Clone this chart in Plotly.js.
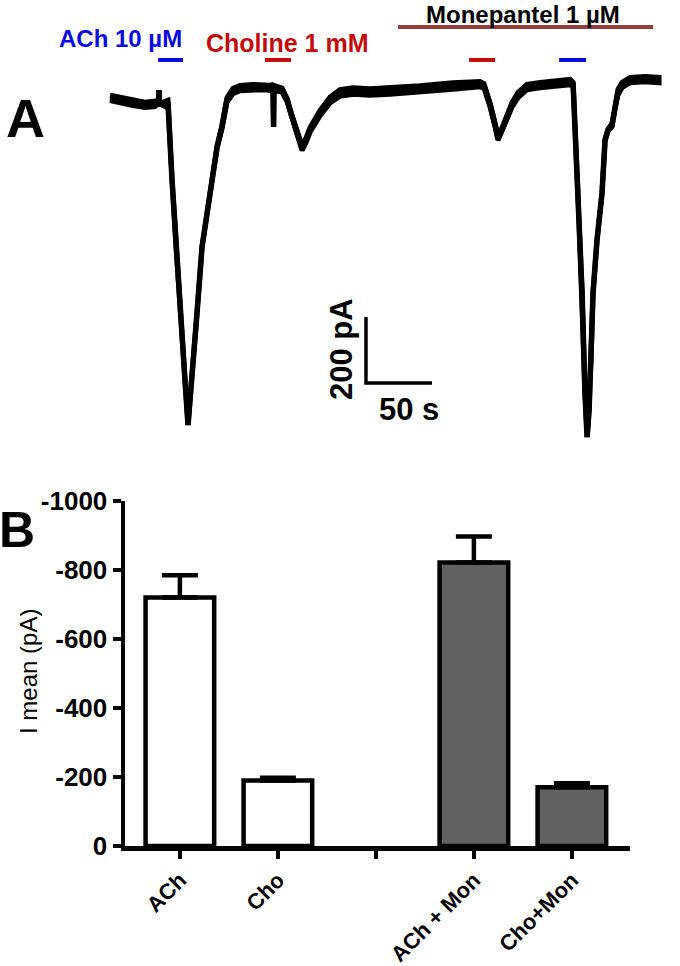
<!DOCTYPE html>
<html>
<head>
<meta charset="utf-8">
<script src="https://cdn.plot.ly/plotly-3.0.1.min.js"></script>
<style>html,body{margin:0;padding:0;background:#fff;}#chart{width:680px;height:966px;}</style>
</head>
<body>
<div id="chart"></div>
<script>
// ---------- Panel A: current trace (time in s, current in pA) ----------
const traceT = [0, 7.6, 17.4, 26.5, 34.1, 36.7, 37.1, 37.5, 41.7, 43.9, 47.0, 50.0, 53.0, 56.8, 59.1,
  62.1, 65.9, 69.7, 73.5, 77.3, 81.1, 84.8, 88.6, 93.2, 98.5, 108.3, 117.4, 123.5, 123.9, 124.2,
  130.3, 134.1, 137.9, 141.7, 145.5, 148.5, 151.5, 159.1, 166.7, 174.2, 184.1, 197.0, 212.1, 234.8,
  259.8, 280.3, 283.3, 287.9, 291.7, 293.9, 297.0, 300.8, 304.5, 309.1, 315.9, 325.8, 337.1, 348.5,
  350.8, 352.3, 354.5, 357.6, 359.8, 361.4, 362.9, 364.4, 365.9, 368.9, 372.7, 375.0, 377.3, 380.3,
  382.6, 384.8, 387.9, 394.0, 405.3, 415.9];
const traceI = [-24, -30, -39, -45, -42, -42, 0, -42, -42, -36, -273, -476, -676, -879, -1015,
  -879, -676, -476, -373, -273, -173, -112, -30, -3, 6, 9, 9, 6, -112, 6,
  0, -30, -82, -130, -176, -152, -121, -70, -30, -9, -3, -6, -3, 3,
  12, 18, 12, -45, -106, -145, -121, -82, -45, -15, 9, 15, 21, 24,
  18, -112, -312, -615, -918, -1052, -970, -818, -615, -455, -312, -152, -121, -106,
  -45, -6, 15, 30, 33, 30];
// Half-width of the recording noise band at each point (pA)
const noiseI = [8, 8, 8, 8, 8, 0, 0, 0, 8, 5, 0, 0, 0, 0, 0,
  0, 0, 0, 0, 0, 3, 5, 7, 8, 8, 8, 8, 8, 0, 8,
  6, 5, 5, 5, 7, 7, 7, 8, 9, 10, 10, 10, 10, 10,
  10, 8, 7, 6, 6, 7, 7, 7, 7, 8, 8, 8, 8, 8,
  5, 0, 0, 0, 0, 0, 0, 0, 0, 0, 0, 3, 3, 5,
  7, 8, 8, 8, 8, 8];

// Drug application periods (s)
const appLabels = ["ACh 10 µM", "Choline 1 mM", "Choline 1 mM", "ACh 10 µM"];
const appStart = [36.4, 117.4, 272.0, 340.2];
const appEnd   = [55.3, 137.1, 291.7, 360.6];
const monLabel = "Monepantel 1 µM";
const monStart = 218.2, monEnd = 411.4;

// Scale bar
const scaleT = 50;     // s
const scaleI = 200;    // pA
const scaleOriginT = 193.9, scaleOriginI = -887.9;

// ---------- Panel B: mean currents ----------
const categories = ["ACh", "Cho", "", "ACh + Mon", "Cho+Mon"];
const barCats = ["ACh", "Cho", "ACh + Mon", "Cho+Mon"];
const meanI = [-720, -190, -822, -170];
const semI = [65, 8, 75, 12];
const yTickVals = [0, -200, -400, -600, -800, -1000];
const yTickText = ["0", "-200", "-400", "-600", "-800", "-1000"];

// ---------- drawing ----------
const W = 680, H = 966;
const FONT = "Liberation Sans, Arial, Helvetica, sans-serif";
const px = x => x / W;
const py = y => 1 - y / H;

const BLUE = "#0a0ae0", RED = "#c40a0a", MON = "#973a3a";
const appColors = [BLUE, RED, RED, BLUE];

const data = [];
// noise band of the recording
const upper = traceI.map((v, i) => v + noiseI[i]);
const lower = traceI.map((v, i) => v - noiseI[i]);
data.push({
  x: traceT.concat(traceT.slice().reverse()),
  y: upper.concat(lower.slice().reverse()),
  xaxis: "x2", yaxis: "y2", type: "scatter", mode: "lines", fill: "toself",
  fillcolor: "#000", line: {color: "#000", width: 5}, hoverinfo: "skip"
});
data.push({
  x: traceT, y: traceI, xaxis: "x2", yaxis: "y2", type: "scatter", mode: "lines",
  line: {color: "#000", width: 5.5, shape: "linear"}, hoverinfo: "skip"
});
for (let i = 0; i < appStart.length; i++) {
  data.push({
    x: [appStart[i], appEnd[i]], y: [91, 91], xaxis: "x2", yaxis: "y2", type: "scatter",
    mode: "lines", line: {color: appColors[i], width: 4}, hoverinfo: "skip"
  });
}
data.push({
  x: [monStart, monEnd], y: [191, 191], xaxis: "x2", yaxis: "y2", type: "scatter",
  mode: "lines", line: {color: MON, width: 4}, hoverinfo: "skip"
});
data.push({
  x: [scaleOriginT, scaleOriginT, scaleOriginT + scaleT],
  y: [scaleOriginI + scaleI, scaleOriginI, scaleOriginI],
  xaxis: "x2", yaxis: "y2", type: "scatter", mode: "lines",
  line: {color: "#000", width: 3.5}, hoverinfo: "skip"
});

const barX = barCats.map(c => categories.indexOf(c));
data.push({
  type: "bar", x: barX, y: meanI, width: 0.7,
  marker: {color: ["#ffffff", "#ffffff", "#616161", "#616161"], line: {color: "#000", width: 4.5}},
  error_y: {type: "data", symmetric: false, array: [0, 0, 0, 0], arrayminus: semI,
            color: "#000", thickness: 4.5, width: 18},
  hoverinfo: "skip"
});

function ann(text, x, y, size, opts) {
  return Object.assign({
    text: text, x: px(x), y: py(y), xref: "paper", yref: "paper",
    xanchor: "center", yanchor: "middle", showarrow: false,
    font: {family: FONT, size: size, color: "#000", weight: "bold"}
  }, opts || {});
}

const annotations = [
  ann("A", 25, 118, 54),
  ann("B", 17, 530, 50),
  ann(appLabels[0], 120, 38, 24, {font: {family: FONT, size: 24, color: BLUE, weight: "bold"}}),
  ann(appLabels[1], 287.5, 43, 25, {font: {family: FONT, size: 25, color: RED, weight: "bold"}}),
  ann(monLabel, 523, 0, 24, {yanchor: "top", borderpad: 0}),
  ann(scaleI + " pA", 342, 349, 31, {textangle: -90}),
  ann(scaleT + " s", 409, 409, 31),
  ann("I mean (pA)", 28, 672, 24, {textangle: -90, font: {family: FONT, size: 24, color: "#000"}})
];

const layout = {
  width: W, height: H, margin: {l: 0, r: 0, t: 0, b: 0},
  paper_bgcolor: "#fff", plot_bgcolor: "rgba(0,0,0,0)", showlegend: false,
  xaxis2: {domain: [px(100), px(670)], range: [-7.58, 424.2], visible: false, anchor: "y2"},
  yaxis2: {domain: [py(450), 1], range: [-1090.9, 272.7], visible: false, anchor: "x2"},
  xaxis: {
    domain: [px(125), px(630)], range: [-0.56, 4.593], anchor: "y",
    tickmode: "array", tickvals: categories.map((c, i) => i), ticktext: categories,
    tickangle: -45, showline: true, linecolor: "#000", linewidth: 4.5,
    ticks: "outside", ticklen: 8, tickwidth: 4.5, tickcolor: "#000",
    showgrid: false, zeroline: false,
    tickfont: {family: FONT, size: 22, color: "#000", weight: "bold"}
  },
  yaxis: {
    domain: [py(846), py(501)], range: [0, -1000], anchor: "x",
    tickmode: "array", tickvals: yTickVals, ticktext: yTickText,
    showline: true, linecolor: "#000", linewidth: 4.5,
    ticks: "outside", ticklen: 8, tickwidth: 4.5, tickcolor: "#000",
    showgrid: false, zeroline: false,
    tickfont: {family: FONT, size: 26, color: "#000", weight: "bold"}
  },
  annotations: annotations
};

Plotly.newPlot("chart", data, layout, {staticPlot: true, displayModeBar: false});
</script>
</body>
</html>
